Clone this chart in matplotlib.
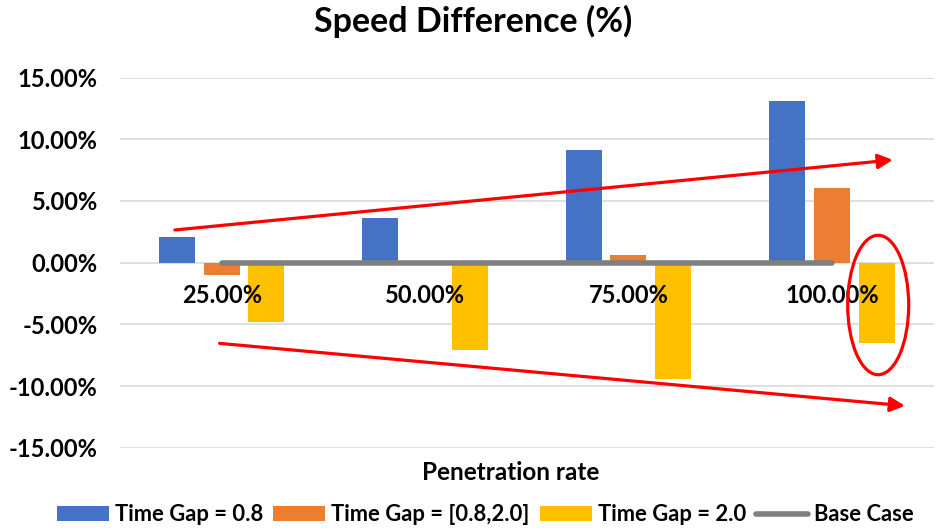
import matplotlib
matplotlib.use("Agg")
import matplotlib.pyplot as plt
from matplotlib.patches import Ellipse
import numpy as np

plt.rcParams['font.family'] = ['Lato', 'DejaVu Sans']
plt.rcParams['font.weight'] = 'bold'

categories = ["25.00%", "50.00%", "75.00%", "100.00%"]
gap_08 = [2.1, 3.6, 9.1, 13.1]
gap_08_20 = [-1.0, 0.0, 0.6, 6.05]
gap_20 = [-4.8, -7.1, -9.4, -6.55]
base_case = [0.0, 0.0, 0.0, 0.0]
series_names = ["Time Gap = 0.8", "Time Gap = [0.8,2.0]", "Time Gap = 2.0", "Base Case"]
yticks = [-15, -10, -5, 0, 5, 10, 15]

colors = ["#4472C4", "#ED7D31", "#FFC000", "#7F7F7F"]

fig = plt.figure(figsize=(9.46, 5.28), dpi=100)
ax = fig.add_axes([0.1268, 0.152, 0.86, 0.701])

x = np.arange(len(categories))
w = 0.177
off = 0.22
b1 = ax.bar(x - off, gap_08, w, color=colors[0], label=series_names[0], zorder=2)
b2 = ax.bar(x, gap_08_20, w, color=colors[1], label=series_names[1], zorder=2)
b3 = ax.bar(x + off, gap_20, w, color=colors[2], label=series_names[2], zorder=2)
ln, = ax.plot(x, base_case, color=colors[3], lw=4, solid_capstyle='round',
              label=series_names[3], zorder=3)

ax.set_xlim(-0.5, len(categories) - 0.5)
ax.set_ylim(-15, 15)
ax.set_yticks(yticks)
ax.set_yticklabels([f"{v:.2f}%" for v in yticks], fontsize=17, fontweight='bold')
ax.tick_params(axis='y', length=0, pad=16)
ax.set_xticks([])
ax.grid(axis='y', color='#D9D9D9', lw=1.2, zorder=0)
for s in ax.spines.values():
    s.set_visible(False)

for i, c in enumerate(categories):
    ax.annotate(c, xy=(i, 0), xytext=(0, -23.5), textcoords='offset points',
                ha='center', va='center', fontsize=17, fontweight='bold', zorder=4)

ax.text(0.48, -0.035, "Penetration rate", transform=ax.transAxes, ha='center',
        va='top', fontsize=17.5, fontweight='bold')

fig.suptitle("Speed Difference (%)", x=0.5, y=0.99, fontsize=24.5, fontweight='bold', va='top')

# annotations
ap = dict(arrowstyle='-|>', color='#FF0000', lw=2.3, mutation_scale=22, shrinkA=0, shrinkB=0)
ax.annotate("", xy=(3.30, 8.33), xytext=(-0.23, 2.65), arrowprops=ap, zorder=5)
ax.annotate("", xy=(3.36, -11.6), xytext=(-0.01, -6.54), arrowprops=ap, zorder=5)
ax.add_patch(Ellipse((3.228, -3.43), 0.3, 11.3, fill=False, edgecolor='#FF0000', lw=2.3, zorder=5))

fig.legend(handles=[b1, b2, b3, ln], labels=series_names, loc='center', ncol=4,
           bbox_to_anchor=(0.513, 0.025), frameon=False,
           handlelength=2.37, handleheight=0.64, handletextpad=0.27, columnspacing=0.46,
           prop={'weight': 'bold', 'size': 15.8})

fig.savefig("out.png", dpi=100)
